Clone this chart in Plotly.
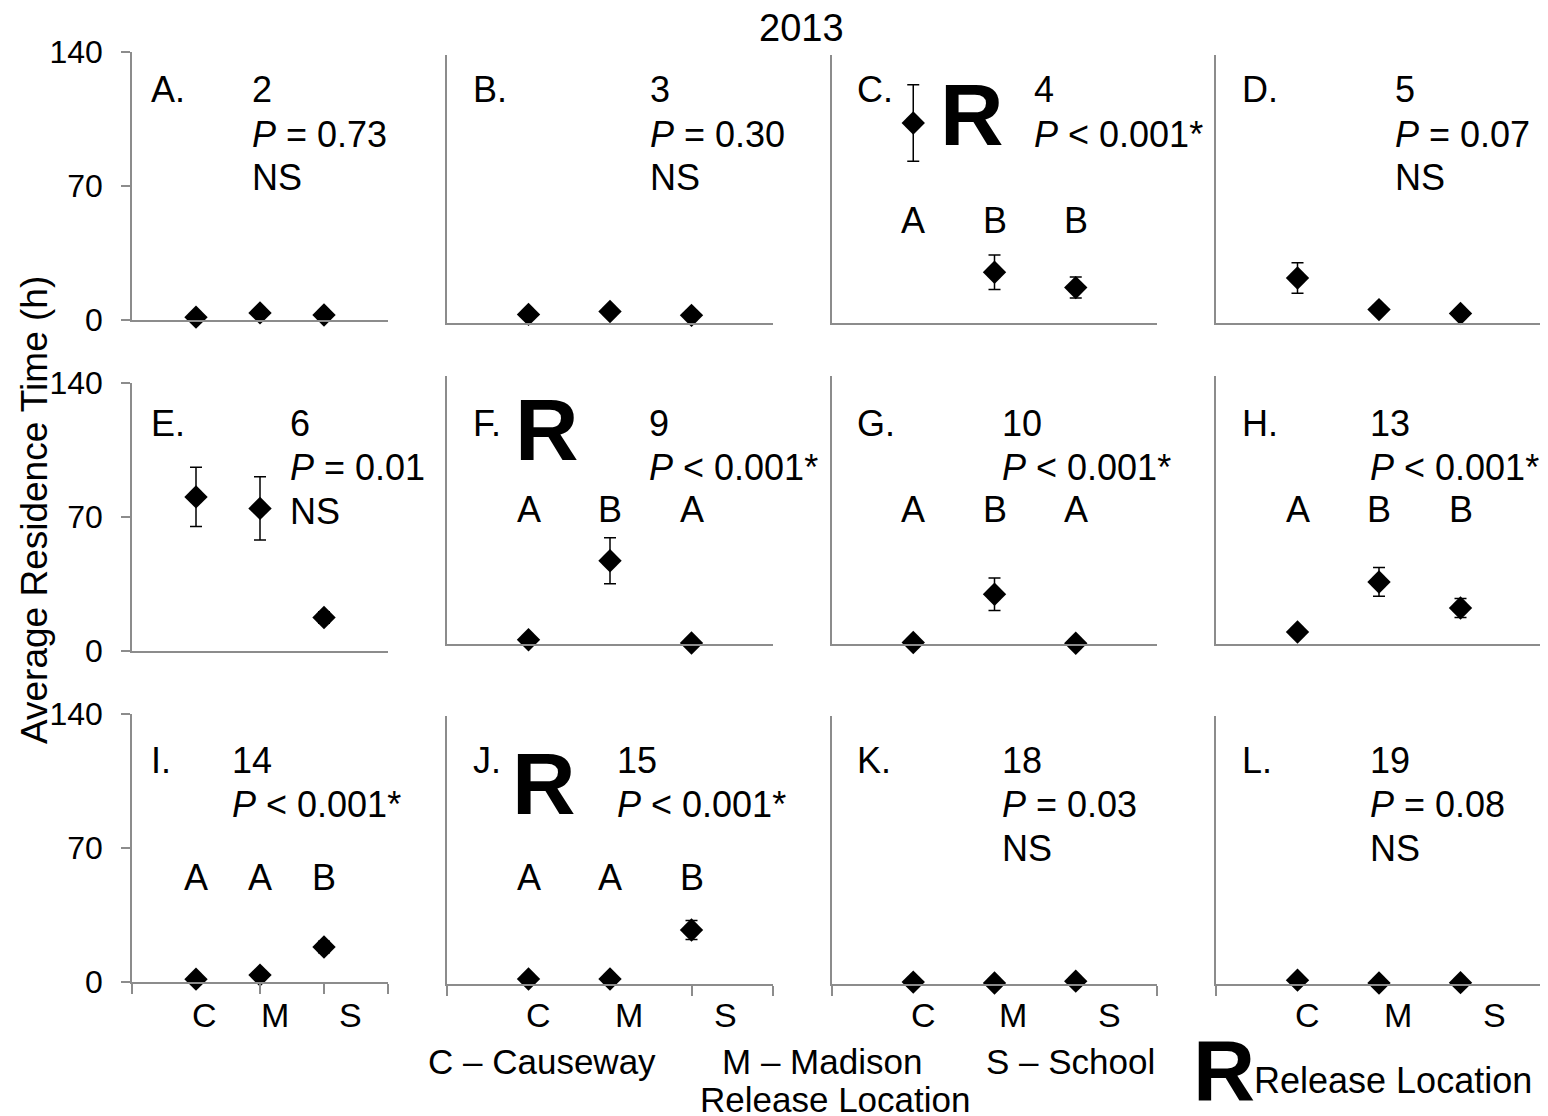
import plotly.graph_objects as go
from plotly.subplots import make_subplots

W, H = 1548, 1116
BODY = 8  # default page margin around the plot div
FONT = "Liberation Sans, Arial, sans-serif"
AXIS = "#8c8c8c"

# release sites (x categories)
SITES = ["C", "M", "S"]
PANEL_LABELS = ["A.", "B.", "C.", "D.", "E.", "F.", "G.", "H.", "I.", "J.", "K.", "L."]
WEEKS = ["2", "3", "4", "5", "6", "9", "10", "13", "14", "15", "18", "19"]
P_TEXT = ["= 0.73", "= 0.30", "< 0.001*", "= 0.07", "= 0.01", "< 0.001*",
          "< 0.001*", "< 0.001*", "< 0.001*", "< 0.001*", "= 0.03", "= 0.08"]
NS = [True, True, False, True, True, False, False, False, False, False, True, True]
GROUPS = [None, None, ["A", "B", "B"], None, None, ["A", "B", "A"],
          ["A", "B", "A"], ["A", "B", "B"], ["A", "A", "B"], ["A", "A", "B"], None, None]
RELEASE = [False, False, True, False, False, True, False, False, False, True, False, False]

# average residence time (h) and error, per panel
mean_a, err_a = [1.5, 3.7, 2.6], [0.4, 0.6, 0.4]
mean_b, err_b = [4.5, 6.0, 4.0], [0.5, 0.5, 0.5]
mean_c, err_c = [104.5, 26.5, 18.5], [20, 9, 5.5]
mean_d, err_d = [23.5, 7.0, 5.0], [8, 2, 0.5]
mean_e, err_e = [80.5, 74.5, 17.5], [15.5, 16.5, 3]
mean_f, err_f = [2.2, 43.5, 0.5], [0.4, 12, 0.3]
mean_g, err_g = [0.8, 26.0, 0.4], [0.3, 8.5, 0.3]
mean_h, err_h = [6.3, 32.4, 18.8], [1, 7.5, 5]
mean_i, err_i = [1.5, 3.6, 18.3], [0.4, 1, 3]
mean_j, err_j = [2.6, 2.6, 28.2], [0.4, 0.4, 5]
mean_k, err_k = [1.0, 0.5, 1.5], [0.3, 0.3, 0.3]
mean_l, err_l = [2.0, 0.5, 0.7], [0.3, 0.3, 0.3]

MEANS = [mean_a, mean_b, mean_c, mean_d, mean_e, mean_f,
         mean_g, mean_h, mean_i, mean_j, mean_k, mean_l]
ERRS = [err_a, err_b, err_c, err_d, err_e, err_f,
        err_g, err_h, err_i, err_j, err_k, err_l]

Y_TICKS = [0, 70, 140]

# panel geometry in pixels
COL_X = [(132, 388), (447, 773), (832, 1157), (1216, 1542)]
ROW_BOTTOM = [[320, 651, 982], [323, 644, 984], [323, 644, 984], [323, 644, 984]]
PANEL_H = 268
LABEL_X = [149, 471, 855, 1240]
INFO_X = [250, 648, 1032, 1393, 288, 647, 1000, 1368, 230, 615, 1000, 1368]
TEXT_Y = [90, 423, 760]
GROUP_Y = [220, 510, 877]
R_POS = {2: (972, 115), 5: (547, 430), 9: (544, 783)}
BOTTOM_TICKS = [[0, 2, 3, 4], [0, 3, 4], [0, 4], [0, 4]]
LABEL_OFFSET = [0.125, 0.23, 0.415]


def px(x):
    return (x - BODY) / W


def py(y):
    return 1 - (y - BODY) / H


fig = make_subplots(rows=3, cols=4)
ann = []


def text(x, y, s, size=36, xanchor="center", family=FONT, **kw):
    ann.append(dict(x=px(x), y=py(y), xref="paper", yref="paper", text=s, showarrow=False,
                    xanchor=xanchor, yanchor="middle", font=dict(family=family, size=size, color="black"), **kw))


xs = list(range(1, len(SITES) + 1))
for k in range(12):
    r, c = divmod(k, 4)
    n = k + 1
    fig.add_trace(go.Scatter(
        x=xs, y=MEANS[k], mode="markers",
        marker=dict(symbol="diamond", size=18, color="black"),
        error_y=dict(type="data", array=ERRS[k], color="black", thickness=1.5, width=6),
        cliponaxis=False, showlegend=False, hoverinfo="skip"), row=r + 1, col=c + 1)

    x0, x1 = COL_X[c]
    yb = ROW_BOTTOM[c][r]
    xa = dict(domain=[px(x0), px(x1)], range=[0, 4], showline=True, linecolor=AXIS, linewidth=1.5,
              showgrid=False, zeroline=False, showticklabels=False, fixedrange=True, automargin=False)
    if r == 2:
        xa.update(ticks="outside", tickvals=BOTTOM_TICKS[c], ticklen=10, tickcolor=AXIS, tickwidth=1.5)
    else:
        xa.update(ticks="")
    ya = dict(domain=[py(yb), py(yb - PANEL_H)], range=[0, 140], showline=True, linecolor=AXIS,
              linewidth=1.5, showgrid=False, zeroline=False, fixedrange=True, automargin=False)
    if c == 0:
        ya.update(ticks="outside", tickvals=Y_TICKS, ticklen=9, tickcolor=AXIS, tickwidth=1.5,
                  tickfont=dict(family=FONT, size=32, color="black"), ticklabelstandoff=12)
    else:
        ya.update(ticks="", showticklabels=False)
    fig.layout["xaxis" if n == 1 else f"xaxis{n}"].update(xa)
    fig.layout["yaxis" if n == 1 else f"yaxis{n}"].update(ya)

    # panel texts
    ty = TEXT_Y[r]
    text(LABEL_X[c], ty, PANEL_LABELS[k], xanchor="left")
    text(INFO_X[k], ty, WEEKS[k], xanchor="left")
    text(INFO_X[k], ty + 44, f"<i>P</i> {P_TEXT[k]}", xanchor="left")
    if NS[k]:
        text(INFO_X[k], ty + 88, "NS", xanchor="left")
    if GROUPS[k]:
        xr = "x" if n == 1 else f"x{n}"
        for i, g in enumerate(GROUPS[k]):
            ann.append(dict(x=xs[i], y=py(GROUP_Y[r]), xref=xr, yref="paper", text=g, showarrow=False,
                            xanchor="center", yanchor="middle",
                            font=dict(family=FONT, size=36, color="black")))
    if RELEASE[k]:
        rx, ry = R_POS[k]
        text(rx, ry, "<b>R</b>", size=88)
    if r == 2:
        xr = "x" if n == 1 else f"x{n}"
        for i, s in enumerate(SITES):
            ann.append(dict(x=xs[i] + LABEL_OFFSET[i], y=py(1015), xref=xr, yref="paper", text=s,
                            showarrow=False, xanchor="center", yanchor="middle",
                            font=dict(family=FONT, size=34, color="black")))

# overall titles and key
text(802, 28, "2013", size=38)
text(35, 510, "Average Residence Time (h)", size=37, textangle=-90)
text(542, 1061, "C – Causeway", size=35)
text(822, 1061, "M – Madison", size=35)
text(1070, 1061, "S – School", size=35)
text(835, 1099, "Release Location", size=35)
text(1224, 1070, "<b>R</b>", size=86)
text(1252, 1080, "Release Location", xanchor="left")

fig.update_layout(width=W, height=H, margin=dict(l=0, r=0, t=0, b=0, pad=0, autoexpand=False),
                  paper_bgcolor="white", plot_bgcolor="white", annotations=ann,
                  font=dict(family=FONT, color="black"))
fig.write_html("out.html")
